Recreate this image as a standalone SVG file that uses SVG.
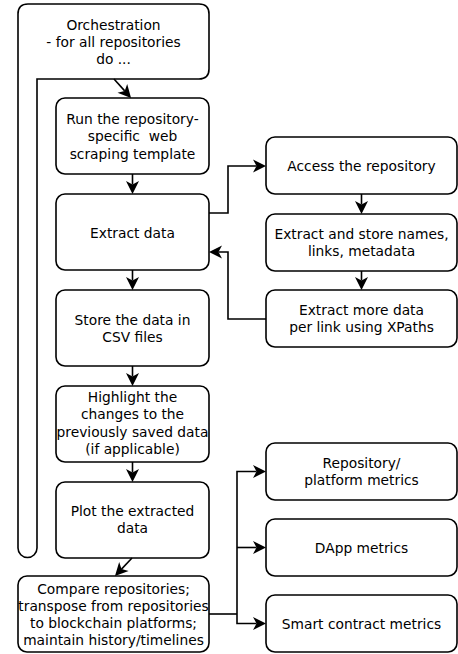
<svg xmlns="http://www.w3.org/2000/svg" width="458" height="654" viewBox="0 0 458 654">
  <style>
    .box { fill: #ffffff; stroke: #000000; stroke-width: 1.6; }
    .lbl { font-family: "DejaVu Sans", "Liberation Sans", sans-serif; font-size: 13.8px; fill: #000000; text-anchor: middle; white-space: pre; }
    .edge { fill: none; stroke: #000000; stroke-width: 1.6; }
  </style>
  <defs>
    <marker id="ah" viewBox="-14 -8 16 16" markerWidth="16" markerHeight="16" refX="-9.5" refY="0" orient="auto" markerUnits="userSpaceOnUse">
      <path d="M0,0 L-13,-6.5 L-9.5,0 L-13,6.5 Z" fill="#000000"/>
    </marker>
  </defs>

  <rect width="458" height="654" fill="#ffffff"/>

  <!-- loop frame: header with a strip running down the left side -->
  <g id="orchestration">
    <path class="box" d="M28,4 H199 Q209,4 209,14 V69 Q209,79 199,79 H37 V548 A9.5,9.5 0 0 1 18,548 V14 Q18,4 28,4 Z"/>
    <text class="lbl" x="113.5" y="29.5">Orchestration</text>
    <text class="lbl" x="113.5" y="46.8">- for all repositories</text>
    <text class="lbl" x="113.5" y="64">do ...</text>
  </g>

  <g id="run-template">
    <rect class="box" x="56" y="98" width="153" height="76" rx="9"/>
    <text class="lbl" x="132.5" y="124">Run the repository-</text>
    <text class="lbl" x="132.5" y="141.3">specific  web</text>
    <text class="lbl" x="132.5" y="158.6">scraping template</text>
  </g>

  <g id="extract-data">
    <rect class="box" x="56" y="194" width="153" height="76" rx="9"/>
    <text class="lbl" x="132.5" y="237.5">Extract data</text>
  </g>

  <g id="store-csv">
    <rect class="box" x="56" y="290" width="153" height="76" rx="9"/>
    <text class="lbl" x="132.5" y="324.5">Store the data in</text>
    <text class="lbl" x="132.5" y="341.8">CSV files</text>
  </g>

  <g id="highlight-changes">
    <rect class="box" x="56" y="386" width="153" height="76" rx="9"/>
    <text class="lbl" x="132.5" y="402">Highlight the</text>
    <text class="lbl" x="132.5" y="419.3">changes to the</text>
    <text class="lbl" x="132.5" y="436.6">previously saved data</text>
    <text class="lbl" x="132.5" y="453.9">(if applicable)</text>
  </g>

  <g id="plot-data">
    <rect class="box" x="56" y="482" width="153" height="76" rx="9"/>
    <text class="lbl" x="132.5" y="516">Plot the extracted</text>
    <text class="lbl" x="132.5" y="533.3">data</text>
  </g>

  <g id="compare">
    <rect class="box" x="18" y="576" width="191" height="76" rx="9"/>
    <text class="lbl" x="113.5" y="593.5">Compare repositories;</text>
    <text class="lbl" x="113.5" y="610.8">transpose from repositories</text>
    <text class="lbl" x="113.5" y="628.1">to blockchain platforms;</text>
    <text class="lbl" x="113.5" y="645.4">maintain history/timelines</text>
  </g>

  <g id="access-repo">
    <rect class="box" x="266" y="137" width="191" height="57" rx="9"/>
    <text class="lbl" x="361.5" y="170.5">Access the repository</text>
  </g>

  <g id="extract-names">
    <rect class="box" x="266" y="214" width="191" height="57" rx="9"/>
    <text class="lbl" x="361.5" y="238.5">Extract and store names,</text>
    <text class="lbl" x="361.5" y="255.8">links, metadata</text>
  </g>

  <g id="extract-xpaths">
    <rect class="box" x="266" y="290" width="191" height="57" rx="9"/>
    <text class="lbl" x="361.5" y="315">Extract more data</text>
    <text class="lbl" x="361.5" y="332.3">per link using XPaths</text>
  </g>

  <g id="platform-metrics">
    <rect class="box" x="266" y="443" width="191" height="57" rx="9"/>
    <text class="lbl" x="361.5" y="467.5">Repository/</text>
    <text class="lbl" x="361.5" y="484.8">platform metrics</text>
  </g>

  <g id="dapp-metrics">
    <rect class="box" x="266" y="519" width="191" height="57" rx="9"/>
    <text class="lbl" x="361.5" y="552.5">DApp metrics</text>
  </g>

  <g id="contract-metrics">
    <rect class="box" x="266" y="595" width="191" height="57" rx="9"/>
    <text class="lbl" x="361.5" y="629">Smart contract metrics</text>
  </g>

  <g id="connectors">
    <path class="edge" d="M114,79 L124.7,90.9" marker-end="url(#ah)"/>
    <path class="edge" d="M132.5,174 V184.5" marker-end="url(#ah)"/>
    <path class="edge" d="M132.5,270 V280.5" marker-end="url(#ah)"/>
    <path class="edge" d="M132.5,366 V376.5" marker-end="url(#ah)"/>
    <path class="edge" d="M132.5,462 V472.5" marker-end="url(#ah)"/>
    <path class="edge" d="M132,558 L121.5,569.1" marker-end="url(#ah)"/>
    <path class="edge" d="M209,213 H228 V166 H256.5" marker-end="url(#ah)"/>
    <path class="edge" d="M266,319 H228 V252 H218.5" marker-end="url(#ah)"/>
    <path class="edge" d="M361.5,194 V204.5" marker-end="url(#ah)"/>
    <path class="edge" d="M361.5,271 V280.5" marker-end="url(#ah)"/>
    <path class="edge" d="M209,614 H237"/>
    <path class="edge" d="M237,614 V471.5 H256.5" marker-end="url(#ah)"/>
    <path class="edge" d="M237,547.5 H256.5" marker-end="url(#ah)"/>
    <path class="edge" d="M237,614 V623.5 H256.5" marker-end="url(#ah)"/>
  </g>
</svg>
